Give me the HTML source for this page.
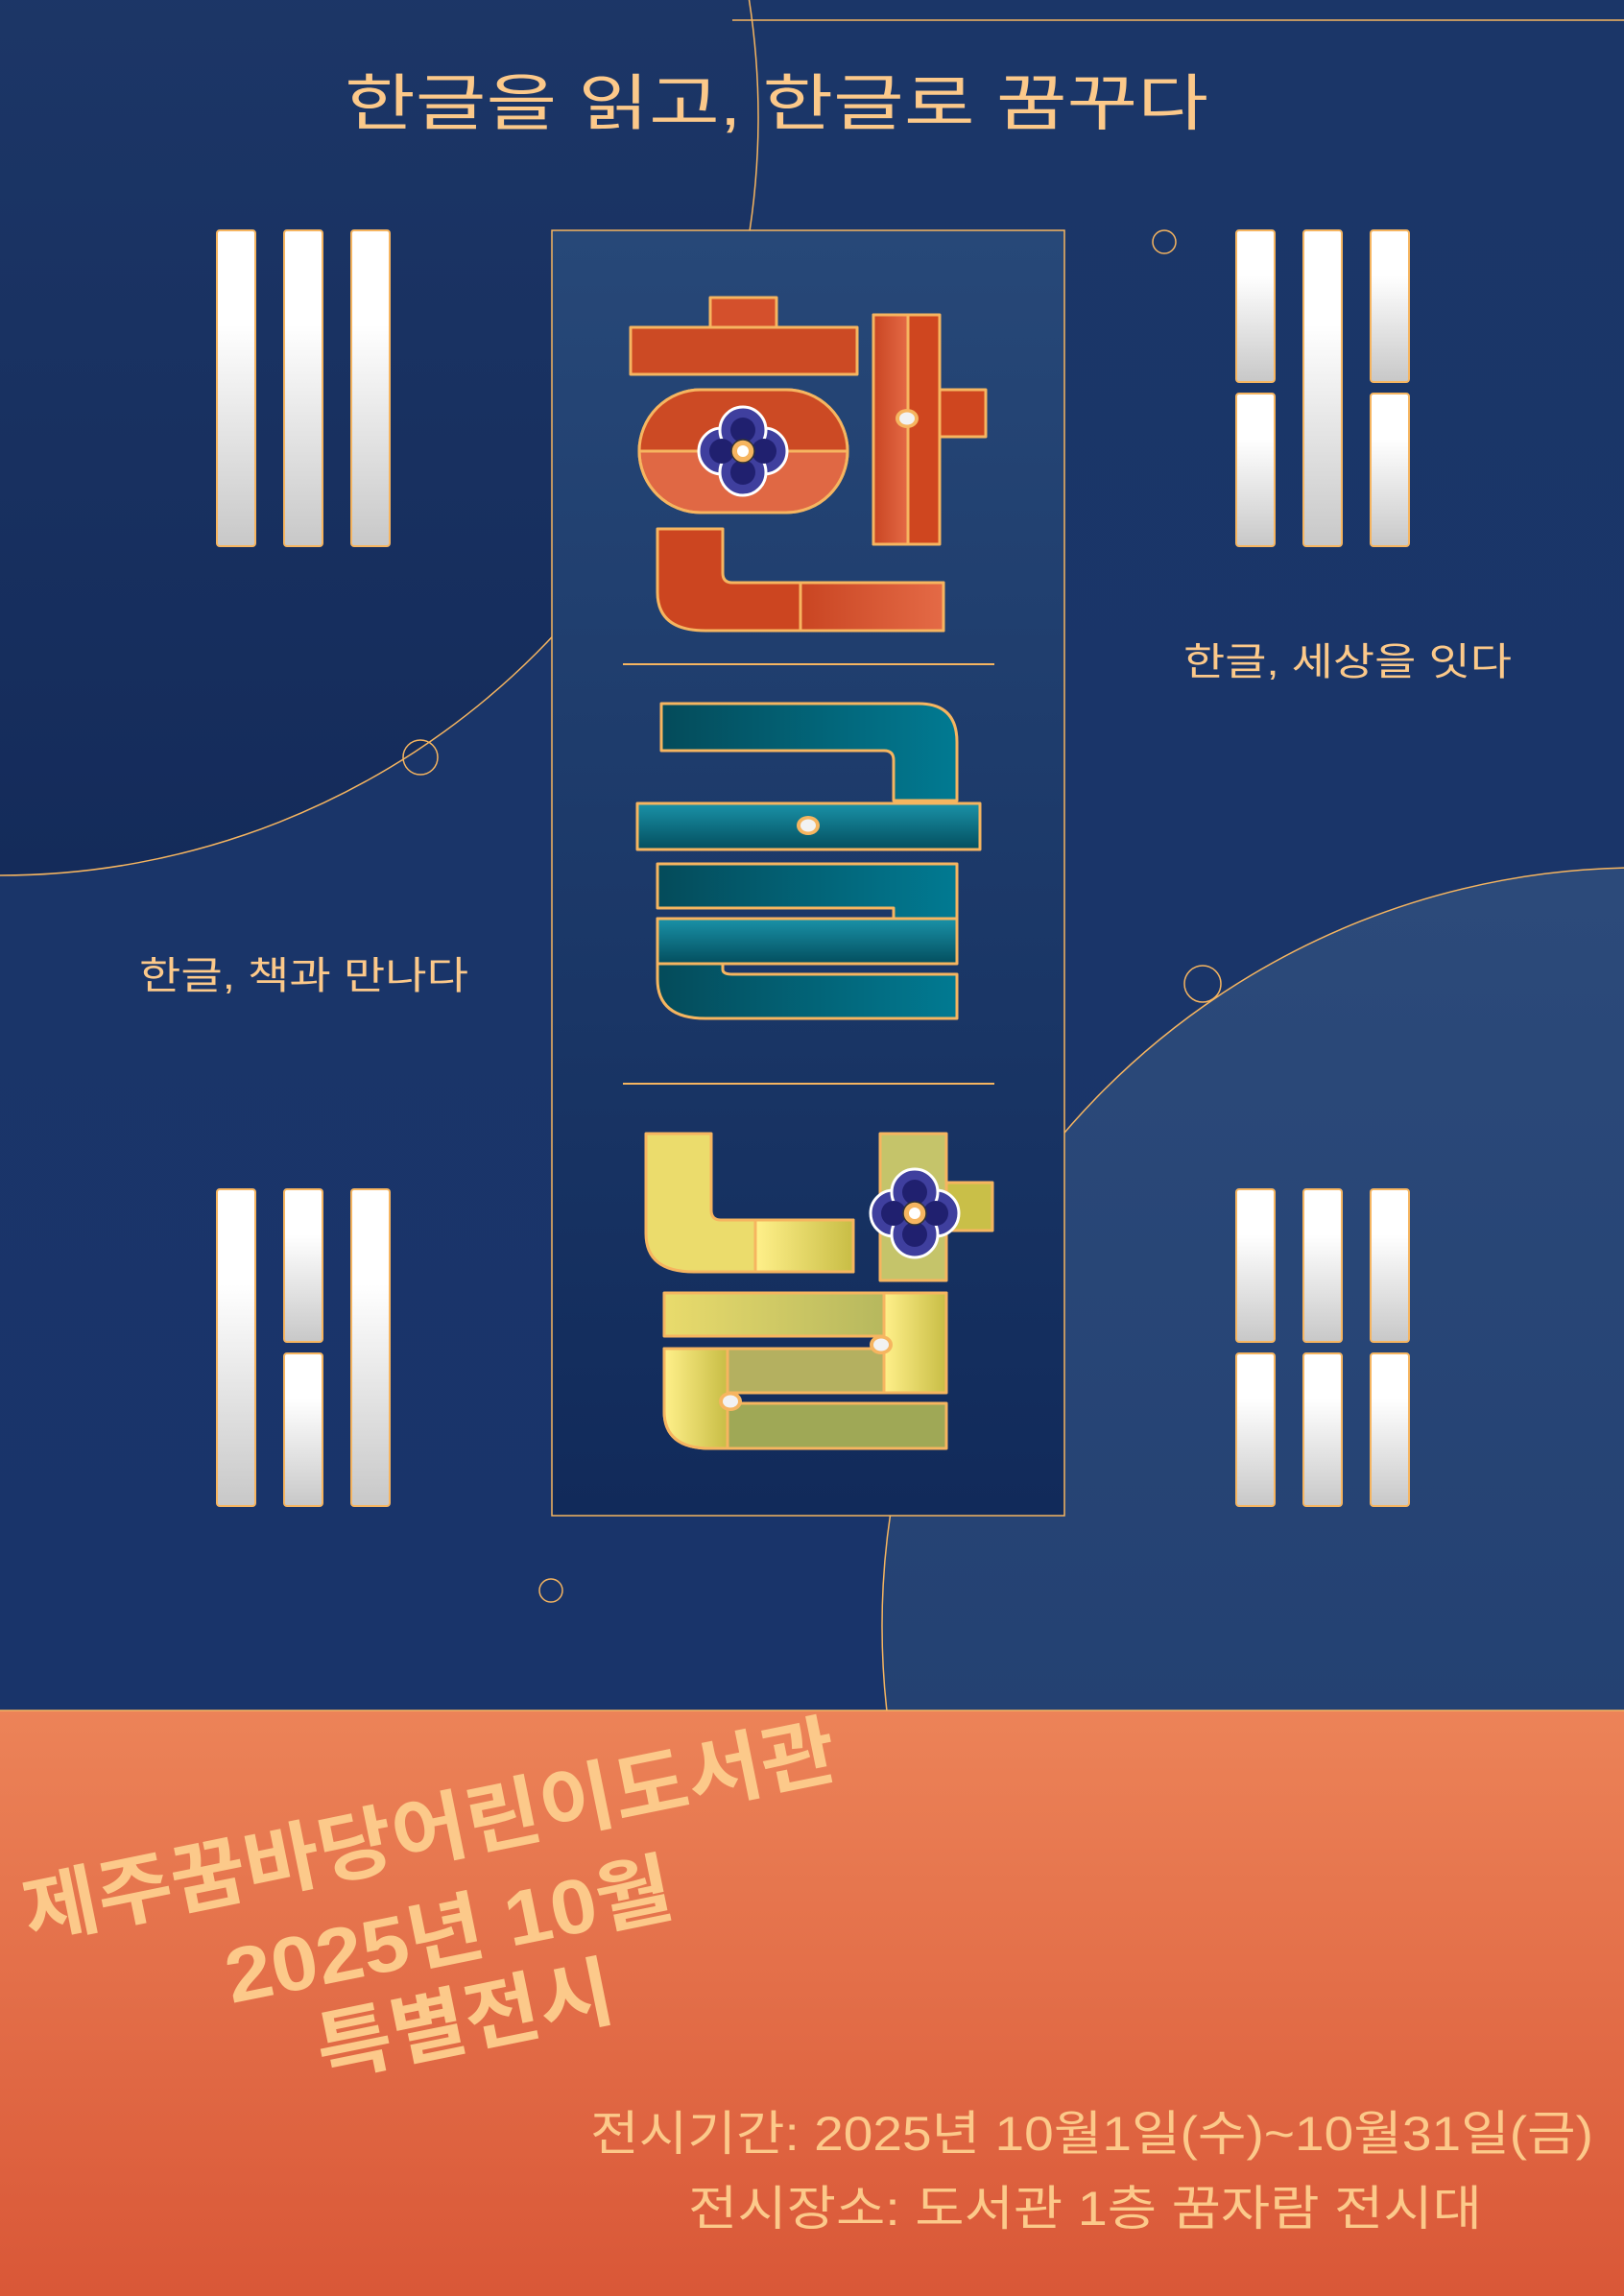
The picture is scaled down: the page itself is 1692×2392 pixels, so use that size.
<!DOCTYPE html>
<html><head><meta charset="utf-8"><style>
html,body{margin:0;padding:0;background:#1a3566}
svg{display:block}
text{font-family:"Liberation Sans","Noto Sans CJK KR",sans-serif;fill:#fcc98a}
</style></head><body>
<svg width="1692" height="2392" viewBox="0 0 1692 2392" xmlns="http://www.w3.org/2000/svg">
<defs>
<linearGradient id="bg" x1="0" y1="0" x2="0" y2="1"><stop offset="0" stop-color="#1b3668"/><stop offset="1" stop-color="#19346a"/></linearGradient>
<linearGradient id="c1" x1="0" y1="0" x2="0" y2="1"><stop offset="0" stop-color="#223e70"/><stop offset="1" stop-color="#142b5a"/></linearGradient>
<linearGradient id="c2" x1="0" y1="0" x2="0" y2="1"><stop offset="0" stop-color="#2c4a7a"/><stop offset="1" stop-color="#1d3a6c"/></linearGradient>
<linearGradient id="panel" x1="0" y1="0" x2="0" y2="1"><stop offset="0" stop-color="#274878"/><stop offset="1" stop-color="#112a5a"/></linearGradient>
<linearGradient id="bar" x1="0" y1="0" x2="0" y2="1"><stop offset="0" stop-color="#ffffff"/><stop offset="0.3" stop-color="#ffffff"/><stop offset="1" stop-color="#c8c8c8"/></linearGradient>
<linearGradient id="orange" x1="0" y1="0" x2="0" y2="1"><stop offset="0" stop-color="#ec8358"/><stop offset="1" stop-color="#d95737"/></linearGradient>
<linearGradient id="red" x1="0" y1="0" x2="1" y2="0"><stop offset="0" stop-color="#c94522"/><stop offset="1" stop-color="#e46a46"/></linearGradient>
<linearGradient id="teal" x1="0" y1="0" x2="1" y2="0"><stop offset="0" stop-color="#044b5a"/><stop offset="1" stop-color="#017a92"/></linearGradient>
<linearGradient id="teal2" x1="0" y1="0" x2="0" y2="1"><stop offset="0" stop-color="#1a92a8"/><stop offset="1" stop-color="#034e5e"/></linearGradient>
<linearGradient id="yel" x1="0" y1="0" x2="1" y2="0"><stop offset="0" stop-color="#e9db6c"/><stop offset="1" stop-color="#a8ae5a"/></linearGradient>
<linearGradient id="yel2" x1="0" y1="0" x2="1" y2="0"><stop offset="0" stop-color="#fff08a"/><stop offset="1" stop-color="#c8bd45"/></linearGradient>
<g id="flower">
  <circle cx="-22" cy="0" r="24" fill="#3f3f9e" stroke="#fff" stroke-width="3"/>
  <circle cx="22" cy="0" r="24" fill="#3f3f9e" stroke="#fff" stroke-width="3"/>
  <circle cx="0" cy="-22" r="24" fill="#3f3f9e" stroke="#fff" stroke-width="3"/>
  <circle cx="0" cy="22" r="24" fill="#3f3f9e" stroke="#fff" stroke-width="3"/>
  <circle cx="-22" cy="0" r="13" fill="#20206f"/><circle cx="22" cy="0" r="13" fill="#20206f"/>
  <circle cx="0" cy="-22" r="13" fill="#20206f"/><circle cx="0" cy="22" r="13" fill="#20206f"/>
  <circle r="12" fill="#f6b560" stroke="#333" stroke-width="1.5"/><circle r="6" fill="#fff"/>
</g>
<g id="dot"><ellipse rx="12" ry="10" fill="#f6b560"/><ellipse rx="8" ry="6.5" fill="#f2f2f2"/></g>
</defs>
<rect width="1692" height="1782" fill="url(#bg)"/>
<circle cx="0" cy="122" r="790" fill="url(#c1)" stroke="#f6b560" stroke-width="1.5"/>
<circle cx="1709" cy="1694" r="790" fill="url(#c2)" stroke="#f6b560" stroke-width="1.5"/>
<line x1="763" y1="21" x2="1692" y2="21" stroke="#f6b560" stroke-width="1.5"/>
<text x="359" y="130" font-size="64" textLength="900" lengthAdjust="spacingAndGlyphs">한글을 읽고, 한글로 꿈꾸다</text>
<text x="1233" y="703" font-size="40" textLength="342" lengthAdjust="spacingAndGlyphs">한글, 세상을 잇다</text>
<text x="145" y="1030" font-size="40" textLength="343" lengthAdjust="spacingAndGlyphs">한글, 책과 만나다</text>
<g fill="none" stroke="#f6b560" stroke-width="1.5">
<circle cx="1213" cy="252" r="12"/><circle cx="438" cy="789" r="18"/><circle cx="1253" cy="1025" r="19"/><circle cx="574" cy="1657" r="12"/>
</g>
<g fill="url(#bar)" stroke="#f6b560" stroke-width="2">
<rect x="226" y="240" width="40" height="329" rx="3"/><rect x="296" y="240" width="40" height="329" rx="3"/><rect x="366" y="240" width="40" height="329" rx="3"/>
<rect x="226" y="1239" width="40" height="330" rx="3"/><rect x="296" y="1239" width="40" height="159" rx="3"/><rect x="296" y="1410" width="40" height="159" rx="3"/><rect x="366" y="1239" width="40" height="330" rx="3"/>
<rect x="1288" y="240" width="40" height="158" rx="3"/><rect x="1288" y="410" width="40" height="159" rx="3"/><rect x="1358" y="240" width="40" height="329" rx="3"/><rect x="1428" y="240" width="40" height="158" rx="3"/><rect x="1428" y="410" width="40" height="159" rx="3"/>
<rect x="1288" y="1239" width="40" height="159" rx="3"/><rect x="1288" y="1410" width="40" height="159" rx="3"/><rect x="1358" y="1239" width="40" height="159" rx="3"/><rect x="1358" y="1410" width="40" height="159" rx="3"/><rect x="1428" y="1239" width="40" height="159" rx="3"/><rect x="1428" y="1410" width="40" height="159" rx="3"/>
</g>
<rect x="575" y="240" width="534" height="1339" fill="url(#panel)" stroke="#f6b560" stroke-width="1.5"/>
<g stroke="#f6b560" stroke-width="3" stroke-linejoin="round">
<!-- 한 -->
<rect x="740" y="310" width="69" height="31" fill="#d4502c"/>
<rect x="657" y="341" width="236" height="49" fill="#cc4a24"/>
<rect x="666" y="406" width="217" height="128" rx="64" fill="#e06844"/>
<path d="M666,470 A64,64 0 0 1 730,406 L819,406 A64,64 0 0 1 883,470 Z" fill="#cc4a24" stroke="none"/>
<rect x="666" y="406" width="217" height="128" rx="64" fill="none"/>
<line x1="666" y1="470" x2="883" y2="470"/>
<rect x="976" y="406" width="51" height="49" fill="#cf461f"/>
<rect x="910" y="328" width="69" height="239" fill="#cf461f"/>
<rect x="910" y="328" width="36" height="239" fill="url(#red)"/>
<path d="M685,551 L753,551 L753,597 Q753,607 763,607 L983,607 L983,657 L735,657 Q685,657 685,617 Z" fill="#cc4520"/>
<rect x="834" y="607" width="149" height="50" fill="url(#red)"/>
<!-- 글 -->
<path d="M689,733 L957,733 Q997,733 997,773 L997,834 L931,834 L931,792 Q931,782 921,782 L689,782 Z" fill="url(#teal)"/>
<rect x="664" y="837" width="357" height="48" fill="url(#teal2)"/>
<path d="M685,900 L997,900 L997,957 L931,957 L931,946 L685,946 Z" fill="url(#teal)"/>
<path d="M685,957 L753,957 L753,1010 Q753,1015 763,1015 L997,1015 L997,1061 L735,1061 Q685,1061 685,1020 Z" fill="url(#teal)"/>
<rect x="685" y="957" width="312" height="47" fill="url(#teal2)"/>
<!-- 날 -->
<path d="M673,1181 L741,1181 L741,1261 Q741,1271 751,1271 L889,1271 L889,1325 L723,1325 Q673,1325 673,1285 Z" fill="#ebdc6c"/>
<rect x="787" y="1271" width="102" height="54" fill="url(#yel2)"/>
<rect x="986" y="1232" width="48" height="50" fill="#c9bf48"/>
<rect x="917" y="1181" width="69" height="153" fill="#c5c46a"/>
<rect x="692" y="1347" width="294" height="45" fill="url(#yel)"/>
<rect x="921" y="1347" width="65" height="104" fill="url(#yel2)"/>
<rect x="758" y="1405" width="163" height="46" fill="#b4b060"/>
<path d="M692,1405 L758,1405 L758,1462 L986,1462 L986,1509 L740,1509 Q692,1509 692,1470 Z" fill="#9fa856"/>
<path d="M692,1405 L758,1405 L758,1509 L740,1509 Q692,1509 692,1470 Z" fill="url(#yel2)"/>
</g>
<line x1="649" y1="692" x2="1036" y2="692" stroke="#f6b560" stroke-width="2"/>
<line x1="649" y1="1129" x2="1036" y2="1129" stroke="#f6b560" stroke-width="2"/>
<use href="#dot" x="945" y="436"/><use href="#dot" x="842" y="860"/><use href="#dot" x="918" y="1401"/><use href="#dot" x="761" y="1460"/>
<use href="#flower" x="774" y="470"/><use href="#flower" x="953" y="1264"/>
<!-- bottom -->
<rect x="0" y="1782" width="1692" height="610" fill="url(#orange)"/>
<line x1="0" y1="1782" x2="1692" y2="1782" stroke="#f6b560" stroke-width="1.5"/>
<g font-weight="bold" font-size="80" text-anchor="middle" lengthAdjust="spacingAndGlyphs">
<text transform="translate(453,1935) rotate(-11.5)" textLength="862" lengthAdjust="spacingAndGlyphs">제주꿈바당어린이도서관</text>
<text transform="translate(473,2040) rotate(-11.5)" textLength="473" lengthAdjust="spacingAndGlyphs">2025년 10월</text>
<text transform="translate(490,2132) rotate(-11.5)" textLength="314" lengthAdjust="spacingAndGlyphs">특별전시</text>
</g>
<text x="615" y="2240" font-size="50" textLength="1045" lengthAdjust="spacingAndGlyphs">전시기간: 2025년 10월1일(수)~10월31일(금)</text>
<text x="717" y="2318" font-size="50" textLength="827" lengthAdjust="spacingAndGlyphs">전시장소: 도서관 1층 꿈자람 전시대</text>
</svg>
</body></html>
